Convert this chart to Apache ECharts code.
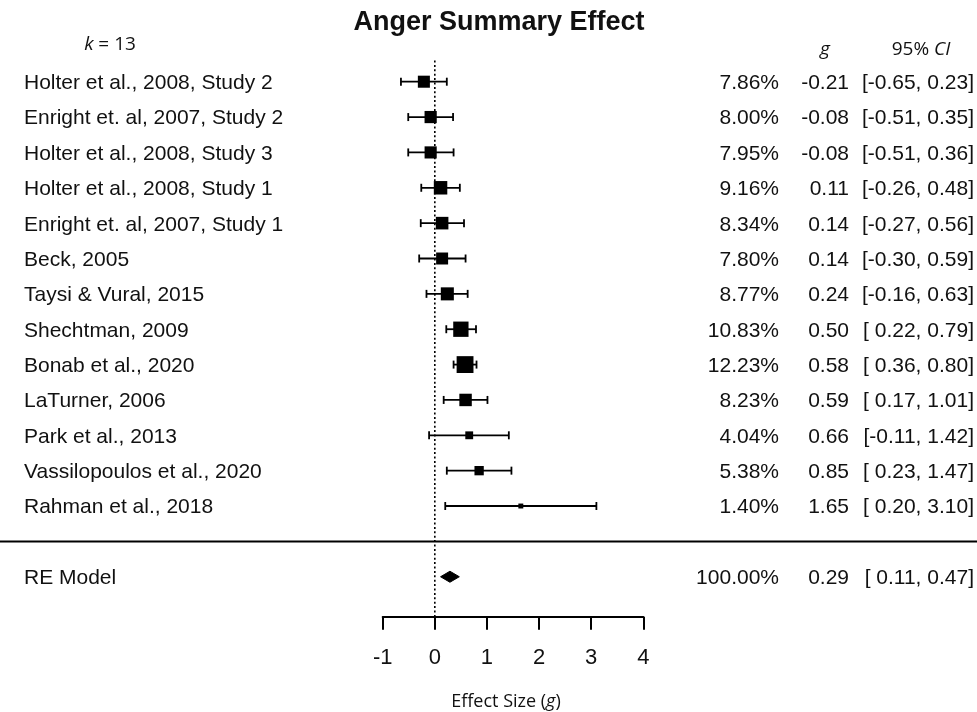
<!DOCTYPE html>
<html><head><meta charset="utf-8">
<script src="https://cdn.jsdelivr.net/npm/echarts@6/dist/echarts.min.js"></script>
<style>html,body{margin:0;padding:0;background:#fff}#c{width:977px;height:712px}</style>
</head><body><div id="c"></div>
<script>
// ---------------- data ----------------
const studies = [
  "Holter et al., 2008, Study 2",
  "Enright et. al, 2007, Study 2",
  "Holter et al., 2008, Study 3",
  "Holter et al., 2008, Study 1",
  "Enright et. al, 2007, Study 1",
  "Beck, 2005",
  "Taysi & Vural, 2015",
  "Shechtman, 2009",
  "Bonab et al., 2020",
  "LaTurner, 2006",
  "Park et al., 2013",
  "Vassilopoulos et al., 2020",
  "Rahman et al., 2018"
];
const weights = [7.86, 8.00, 7.95, 9.16, 8.34, 7.80, 8.77, 10.83, 12.23, 8.23, 4.04, 5.38, 1.40];
const effects = [-0.21, -0.08, -0.08, 0.11, 0.14, 0.14, 0.24, 0.50, 0.58, 0.59, 0.66, 0.85, 1.65];
const lowers  = [-0.65, -0.51, -0.51, -0.26, -0.27, -0.30, -0.16, 0.22, 0.36, 0.17, -0.11, 0.23, 0.20];
const uppers  = [0.23, 0.35, 0.36, 0.48, 0.56, 0.59, 0.63, 0.79, 0.80, 1.01, 1.42, 1.47, 3.10];
const summaryLabel = "RE Model";
const summaryWeight = 100.00;
const summaryEffect = 0.29;
const summaryLower = 0.11;
const summaryUpper = 0.47;
const xTickValues = [-1, 0, 1, 2, 3, 4];
const chartTitle = "Anger Summary Effect";
const kCount = 13;

// ---------------- derived ----------------
const rows = studies.map((s, i) => i);
const separatorRow = studies.length;
const summaryRow = studies.length + 1;
const yMin = -1, yMax = 15.13;
const refTop = -0.6;

const f2 = v => v.toFixed(2);
const ciPart = v => (v >= 0 ? ' ' : '') + f2(v);
const weightTexts = weights.map(w => f2(w) + '%').concat([f2(summaryWeight) + '%']);
const effectTexts = effects.map(f2).concat([f2(summaryEffect)]);
const ciTexts = lowers.map((l, i) => '[' + ciPart(l) + ', ' + f2(uppers[i]) + ']')
  .concat(['[' + ciPart(summaryLower) + ', ' + f2(summaryUpper) + ']']);
const labelTexts = studies.concat([summaryLabel]);
const textRows = rows.concat([summaryRow]);

const FONT = '"Liberation Sans", Arial, sans-serif';
const FONT2 = '"Open Sans", "Noto Sans", sans-serif';
const sq = w => 3.4 + 1.1 * w;

function textSeries(xPos, align, texts) {
  return {
    type: 'custom', xAxisIndex: 1, yAxisIndex: 1, silent: true, z: 5,
    data: texts.map((t, i) => [xPos, textRows[i]]),
    renderItem: function (params, api) {
      const p = api.coord([api.value(0), api.value(1)]);
      return {
        type: 'text', x: p[0], y: p[1] + 1.6,
        style: {
          text: texts[params.dataIndex], fill: '#111',
          font: '21px ' + FONT, textAlign: align, textVerticalAlign: 'middle'
        }
      };
    }
  };
}

const chart = echarts.init(document.getElementById('c'), null, {renderer: 'canvas'});
chart.setOption({
  backgroundColor: '#fff',
  animation: false,
  grid: [
    {left: 382.7, right: 333.7, top: 46.34, bottom: 95.3},
    {left: 0, right: 0, top: 46.34, bottom: 95.3}
  ],
  xAxis: [
    {
      type: 'value', gridIndex: 0, min: -1, max: 4, interval: 1,
      axisLine: {show: true, onZero: false, lineStyle: {color: '#000', width: 2}},
      axisTick: {show: true, inside: false, length: 13, lineStyle: {color: '#000', width: 2}},
      axisLabel: {show: true, margin: 30, fontSize: 22, color: '#111', fontFamily: FONT,
        formatter: v => xTickValues.indexOf(v) >= 0 ? String(v) : ''},
      splitLine: {show: false}
    },
    {type: 'value', gridIndex: 1, min: 0, max: 977, show: false}
  ],
  yAxis: [
    {type: 'value', gridIndex: 0, min: yMin, max: yMax, inverse: true, show: false},
    {type: 'value', gridIndex: 1, min: yMin, max: yMax, inverse: true, show: false}
  ],
  graphic: [
    {type: 'text', x: 499, y: 23, silent: true,
      style: {text: chartTitle, font: 'bold 27px ' + FONT, fill: '#111', textAlign: 'center', textVerticalAlign: 'middle'}},
    {type: 'text', x: 110, y: 45, silent: true,
      style: {text: '{i|k}{n| = ' + kCount + '}', textAlign: 'center', textVerticalAlign: 'middle',
        rich: {i: {fontFamily: FONT2, fontSize: 19, fontStyle: 'italic', fill: '#111'},
               n: {fontFamily: FONT2, fontSize: 19, fill: '#111'}}}},
    {type: 'text', x: 825, y: 50, silent: true,
      style: {text: 'g', font: 'italic 19px ' + FONT2, fill: '#111', textAlign: 'center', textVerticalAlign: 'middle'}},
    {type: 'text', x: 921, y: 50, silent: true,
      style: {text: '{n|95% }{i|CI}', textAlign: 'center', textVerticalAlign: 'middle',
        rich: {i: {fontFamily: FONT2, fontSize: 19, fontStyle: 'italic', fill: '#111'},
               n: {fontFamily: FONT2, fontSize: 19, fill: '#111'}}}},
    {type: 'text', x: 506, y: 702, silent: true,
      style: {text: '{n|Effect Size (}{i|g}{n|)}', textAlign: 'center', textVerticalAlign: 'middle',
        rich: {i: {fontFamily: FONT2, fontSize: 18, fontStyle: 'italic', fill: '#111'},
               n: {fontFamily: FONT2, fontSize: 18, fill: '#111'}}}}
  ],
  series: [
    // reference line at 0
    {type: 'line', xAxisIndex: 0, yAxisIndex: 0, silent: true, symbol: 'none', z: 1,
      data: [[0, refTop], [0, yMax]],
      lineStyle: {color: '#000', width: 1.6, type: [2, 2.4]}},
    // separator
    {type: 'line', xAxisIndex: 1, yAxisIndex: 1, silent: true, symbol: 'none', z: 1,
      data: [[0, separatorRow], [977, separatorRow]],
      lineStyle: {color: '#000', width: 2}},
    // CI bars
    {type: 'custom', xAxisIndex: 0, yAxisIndex: 0, silent: true, z: 3,
      data: rows.map(i => [lowers[i], uppers[i], i]),
      renderItem: function (params, api) {
        const a = api.coord([api.value(0), api.value(2)]);
        const b = api.coord([api.value(1), api.value(2)]);
        const h = 4;
        const st = {stroke: '#000', lineWidth: 1.8};
        return {type: 'group', children: [
          {type: 'line', shape: {x1: a[0], y1: a[1], x2: b[0], y2: b[1]}, style: st},
          {type: 'line', shape: {x1: a[0], y1: a[1] - h, x2: a[0], y2: a[1] + h}, style: st},
          {type: 'line', shape: {x1: b[0], y1: b[1] - h, x2: b[0], y2: b[1] + h}, style: st}
        ]};
      }},
    // point estimates
    {type: 'scatter', xAxisIndex: 0, yAxisIndex: 0, silent: true, z: 4,
      symbol: 'rect',
      symbolSize: (v, p) => sq(weights[p.dataIndex]),
      itemStyle: {color: '#000', opacity: 1},
      data: rows.map(i => [effects[i], i])},
    // summary diamond
    {type: 'custom', xAxisIndex: 0, yAxisIndex: 0, silent: true, z: 4,
      data: [[summaryLower, summaryEffect, summaryUpper, summaryRow]],
      renderItem: function (params, api) {
        const l = api.coord([api.value(0), api.value(3)]);
        const m = api.coord([api.value(1), api.value(3)]);
        const u = api.coord([api.value(2), api.value(3)]);
        const h = 5.5;
        return {type: 'polygon',
          shape: {points: [[l[0], l[1]], [m[0], m[1] - h], [u[0], u[1]], [m[0], m[1] + h]]},
          style: {fill: '#000', stroke: '#000', lineWidth: 1}};
      }},
    textSeries(24, 'left', labelTexts),
    textSeries(779, 'right', weightTexts),
    textSeries(849, 'right', effectTexts),
    textSeries(974, 'right', ciTexts)
  ]
});
</script>
</body></html>
